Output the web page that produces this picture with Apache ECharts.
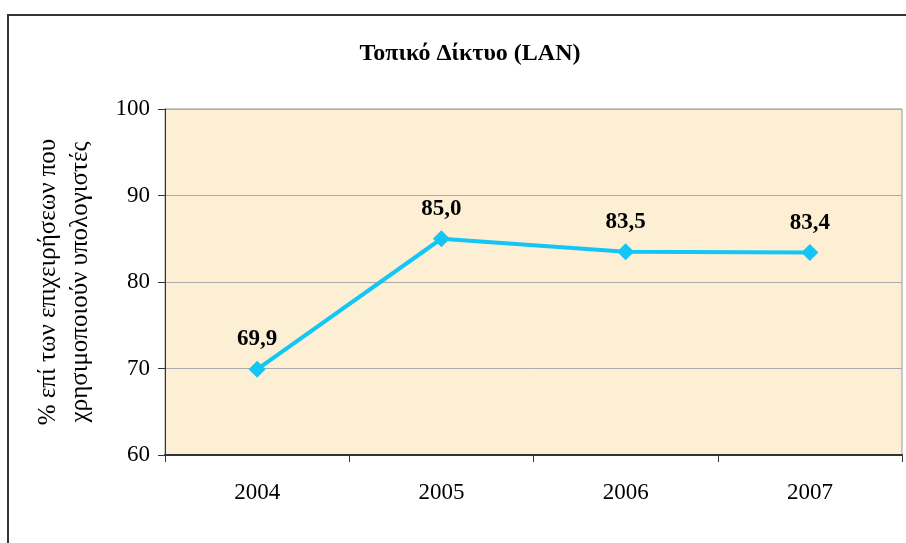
<!DOCTYPE html>
<html>
<head>
<meta charset="utf-8">
<script src="https://cdn.jsdelivr.net/npm/echarts@6/dist/echarts.min.js"></script>
<style>
  html, body { margin: 0; padding: 0; background: #fff; }
  #main { width: 906px; height: 543px; }
</style>
</head>
<body>
<div id="main"></div>
<script>
// data
const years = ['2004', '2005', '2006', '2007'];
const lanShare = [69.9, 85.0, 83.5, 83.4];
const yTicks = { min: 60, max: 100, step: 10 };

const chart = echarts.init(document.getElementById('main'));
const serif = '"Liberation Serif", "DejaVu Serif", serif';

const option = {
  backgroundColor: '#fff',
  animation: false,
  title: {
    text: 'Τοπικό Δίκτυο (LAN)',
    left: 465,
    top: 37,
    textAlign: 'center',
    textStyle: { fontFamily: serif, fontWeight: 'bold', fontSize: 24, color: '#000' }
  },
  // outer frame of the chart object
  graphic: [
    {
      type: 'rect',
      shape: { x: 8, y: 15, width: 1000, height: 600 },
      style: { fill: 'none', stroke: '#333', lineWidth: 2 },
      z: 0
    }
  ],
  grid: {
    left: 165, right: 4, top: 109, bottom: 88,
    show: true,
    backgroundColor: '#FCEFD4',
    borderColor: '#999',
    borderWidth: 1
  },
  xAxis: {
    type: 'category',
    data: years,
    boundaryGap: true,
    axisLine: { lineStyle: { color: '#333', width: 2 } },
    axisTick: { show: true, length: 7, lineStyle: { color: '#333' } },
    axisLabel: { fontFamily: serif, fontSize: 23, color: '#000', margin: 26 }
  },
  yAxis: {
    type: 'value',
    min: yTicks.min,
    max: yTicks.max,
    interval: yTicks.step,
    name: '% επί των επιχειρήσεων που\nχρησιμοποιούν υπολογιστές',
    nameLocation: 'middle',
    nameGap: 69,
    nameRotate: 90,
    nameTextStyle: { fontFamily: serif, fontSize: 25, color: '#000', lineHeight: 32 },
    axisLine: { show: true, lineStyle: { color: '#333', width: 1 } },
    axisTick: { show: true, length: 7, lineStyle: { color: '#333' } },
    axisLabel: { fontFamily: serif, fontSize: 23, color: '#000', margin: 15 },
    splitLine: { show: true, lineStyle: { color: '#aaa', width: 1 } }
  },
  series: [
    {
      type: 'line',
      data: lanShare,
      symbol: 'diamond',
      symbolSize: 17,
      lineStyle: { color: '#14C6F5', width: 4 },
      itemStyle: { color: '#14C6F5' },
      label: {
        show: true,
        position: 'top',
        distance: 10,
        fontFamily: serif,
        fontWeight: 'bold',
        fontSize: 23,
        color: '#000',
        formatter: (p) => p.value.toFixed(1).replace('.', ',')
      }
    }
  ]
};

chart.setOption(option);
</script>
</body>
</html>
